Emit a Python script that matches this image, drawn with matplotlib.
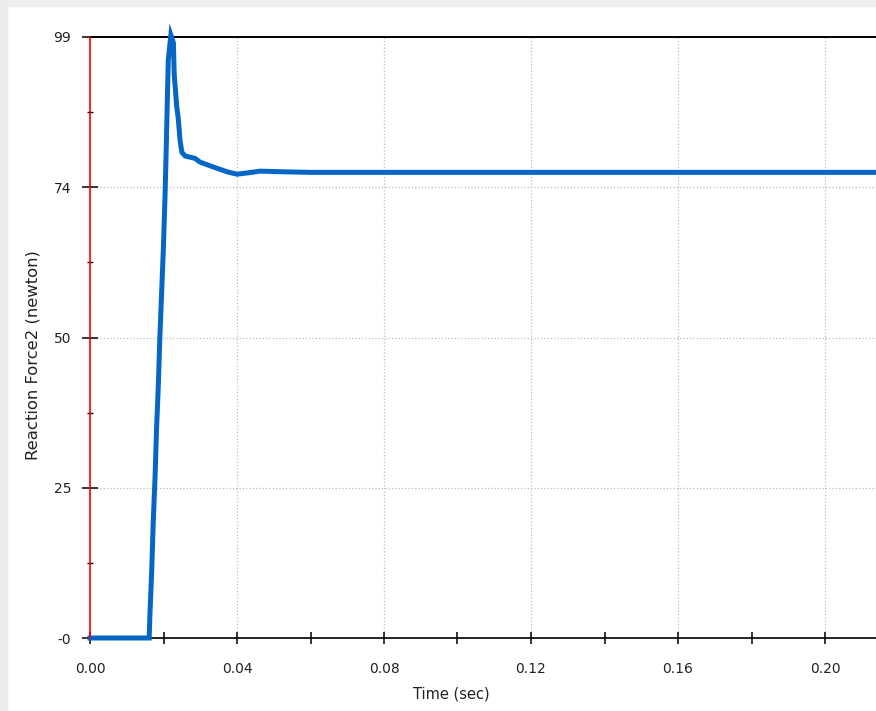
import numpy as np
import matplotlib.pyplot as plt
from matplotlib.patches import Rectangle
from matplotlib.ticker import FixedLocator, FixedFormatter, MultipleLocator

# data
time_s = [0.0000, 0.0161, 0.0163, 0.0168, 0.0172, 0.0177, 0.0181, 0.0186,
          0.0190, 0.0195, 0.0200, 0.0204, 0.0207, 0.0210, 0.0213, 0.0220,
          0.0227, 0.0229, 0.0236, 0.0240, 0.0245, 0.0250, 0.0259, 0.0286,
          0.0299, 0.0335, 0.0373, 0.0400, 0.0427, 0.0463, 0.0525, 0.0600,
          0.2200]
force_n = [0.0, 0.0, 3.8, 11.2, 19.0, 26.5, 34.3, 41.7,
           49.4, 57.0, 64.7, 72.5, 79.5, 87.5, 95.2, 99.3,
           98.0, 93.0, 87.5, 85.7, 82.0, 80.0, 79.4, 79.0,
           78.4, 77.6, 76.8, 76.4, 76.6, 76.9, 76.8, 76.7,
           76.7]

y_ticks = [0, 24.75, 49.5, 74.25, 99]
y_labels = ["-0", "25", "50", "74", "99"]
x_ticks = [0.00, 0.04, 0.08, 0.12, 0.16, 0.20]
x_labels = ["0.00", "0.04", "0.08", "0.12", "0.16", "0.20"]


def main():
    W, H = 876, 711
    fig = plt.figure(figsize=(W / 100, H / 100), dpi=100)
    plt.rcParams['font.family'] = ['DejaVu Sans']

    # window border
    fig.patches.append(Rectangle((0, 1 - 6 / H), 1, 6 / H, transform=fig.transFigure,
                                 color="#efefef", zorder=0))
    fig.patches.append(Rectangle((0, 0), 7 / W, 1, transform=fig.transFigure,
                                 color="#ebebeb", zorder=0))

    ax = fig.add_axes([90 / W, 1 - 638 / H, 1 - 90 / W, (638 - 37) / H])
    ax.plot(time_s, force_n, color="#0566c6", lw=3.6, solid_joinstyle="miter",
            clip_on=False, zorder=5)

    ax.set_xlim(0, (876 - 90) / 3675)
    ax.set_ylim(0, 99)

    ax.xaxis.set_major_locator(FixedLocator(x_ticks))
    ax.xaxis.set_major_formatter(FixedFormatter(x_labels))
    ax.xaxis.set_minor_locator(MultipleLocator(0.02))
    ax.yaxis.set_major_locator(FixedLocator(y_ticks))
    ax.yaxis.set_major_formatter(FixedFormatter(y_labels))
    ax.yaxis.set_minor_locator(FixedLocator([12.375, 37.125, 61.875, 86.625]))

    ax.tick_params(axis="x", which="both", direction="inout", length=8.5, width=1.1,
                   pad=13, labelsize=10, labelcolor="#222222")
    ax.tick_params(axis="y", which="major", direction="inout", length=11, width=1.1,
                   pad=8, labelsize=10, labelcolor="#222222")
    ax.tick_params(axis="y", which="minor", direction="inout", length=5, width=1.0)

    ax.grid(True, which="major", color="#bdbdbd", linestyle=":", lw=0.9)

    ax.spines["left"].set_color("red")
    ax.spines["left"].set_linewidth(1.2)
    ax.spines["left"].set_zorder(6)
    ax.spines["top"].set_color("black")
    ax.spines["top"].set_linewidth(1.4)
    ax.spines["bottom"].set_color("black")
    ax.spines["bottom"].set_linewidth(1.2)
    ax.spines["right"].set_visible(False)

    fig.text(451 / W, 1 - 694 / H, "Time (sec)", ha="center", va="center",
             fontsize=10.5, color="#222222")
    fig.text(33 / W, 1 - 355 / H, "Reaction Force2 (newton)", ha="center", va="center",
             rotation=90, fontsize=11.8, color="#222222")

    fig.savefig("out.png", dpi=100)


if __name__ == "__main__":
    main()
